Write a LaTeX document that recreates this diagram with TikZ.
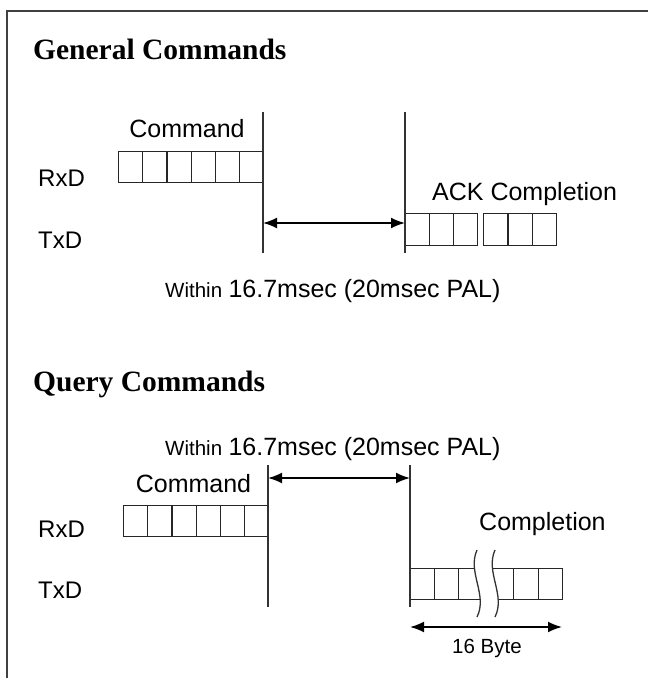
\documentclass[tikz,border=0pt]{standalone}
\usepackage{fontspec}
\setmainfont{Liberation Sans}
\newfontfamily\headfont{Liberation Serif}
\usetikzlibrary{arrows.meta}

\begin{document}
\begin{tikzpicture}[x=1pt,y=-1pt]
\tikzstyle{every node}=[inner sep=0pt,anchor=base west];
\tikzstyle{lbl}=[font=\fontsize{25}{28}\selectfont];
\tikzstyle{sig}=[font=\fontsize{24}{28}\selectfont];
\tikzstyle{small}=[font=\fontsize{20.5}{24}\selectfont];
\tikzstyle{head}=[font=\headfont\bfseries\fontsize{29.5}{32}\selectfont];
\tikzstyle{cell}=[draw=black!85,line width=1.3pt,minimum height=31pt,anchor=north west];
\tikzstyle{tline}=[line width=1.3pt,draw=black!80];
\tikzstyle{span}=[line width=1.8pt,{Latex[length=14pt,width=11pt]}-{Latex[length=14pt,width=11pt]}];

\useasboundingbox (0,0) rectangle (648,678);

% frame
\draw[line width=2pt,black!75] (648,11) -- (7,11) -- (7,678);

% General Commands
\node[head] (headA) at (33,59) {General Commands};
\node[sig] (rxdA) at (38,186) {RxD};
\node[sig] (txdA) at (38,248) {TxD};
\node[lbl,anchor=base] (cmdA) at (187,137) {Command};
\node[lbl] (ackA) at (432,200) {ACK Completion};
\node[small] (withinA) at (165,297) {Within};
\node[lbl,xshift=6pt] (timeA) at (withinA.base east) {16.7msec (20msec PAL)};

\foreach \i in {0,...,5}
  \node[cell,minimum width=24.17pt] (rA\i) at (118+\i*24.17,151) {};
\foreach \i in {0,1,2}
  \node[cell,minimum width=24pt,minimum height=32pt] (tA\i) at (405+\i*24,213) {};
\foreach \i in {0,1,2}
  \node[cell,minimum width=24.3pt,minimum height=32pt] (tB\i) at (483+\i*24.3,213) {};

\coordinate (topA1) at (263,112);
\coordinate (botA1) at (263,253);
\coordinate (topA2) at (405,112);
\coordinate (botA2) at (405,253);
\coordinate (arrA1) at (263,223);
\coordinate (arrA2) at (405,223);
\foreach \from/\to in {topA1/botA1, topA2/botA2}
\draw [tline] (\from) -- (\to);
\draw [span] (arrA1) -- (arrA2);

% Query Commands
\node[head] (headB) at (33,391) {Query Commands};
\node[small] (withinB) at (165,455) {Within};
\node[lbl,xshift=6pt] (timeB) at (withinB.base east) {16.7msec (20msec PAL)};
\node[lbl,anchor=base] (cmdB) at (193.5,492) {Command};
\node[sig] (rxdB) at (38,537) {RxD};
\node[sig] (txdB) at (38,598) {TxD};
\node[lbl] (complB) at (479,530) {Completion};

\foreach \i in {0,...,5}
  \node[cell,minimum width=24.17pt] (rB\i) at (123+\i*24.17,505) {};
\foreach \i in {0,1,2}
  \node[cell,minimum width=24pt] (cL\i) at (410+\i*24,568) {};
\foreach \i in {0,1,2}
  \node[cell,minimum width=24.5pt] (cR\i) at (488.5+\i*24.5,568) {};

% break in the 16 byte run
\fill[white] (477,550) .. controls (467,572) and (488,595) .. (477,617)
  -- (495,617) .. controls (506,595) and (485,572) .. (495,550) -- cycle;
\draw[tline] (477,550) .. controls (467,572) and (488,595) .. (477,617);
\draw[tline] (495,550) .. controls (485,572) and (506,595) .. (495,617);

\coordinate (topB1) at (268,465);
\coordinate (botB1) at (268,607);
\coordinate (topB2) at (410,465);
\coordinate (botB2) at (410,607);
\coordinate (arrB1) at (268,478);
\coordinate (arrB2) at (410,478);
\coordinate (lenL) at (410,627);
\coordinate (lenR) at (562,627);
\foreach \from/\to in {topB1/botB1, topB2/botB2}
\draw [tline] (\from) -- (\to);
\draw [span] (arrB1) -- (arrB2);
\draw [span] (lenL) -- (lenR);
\node[small,anchor=base] (lenB) at (487,653) {16 Byte};

\end{tikzpicture}
\end{document}
